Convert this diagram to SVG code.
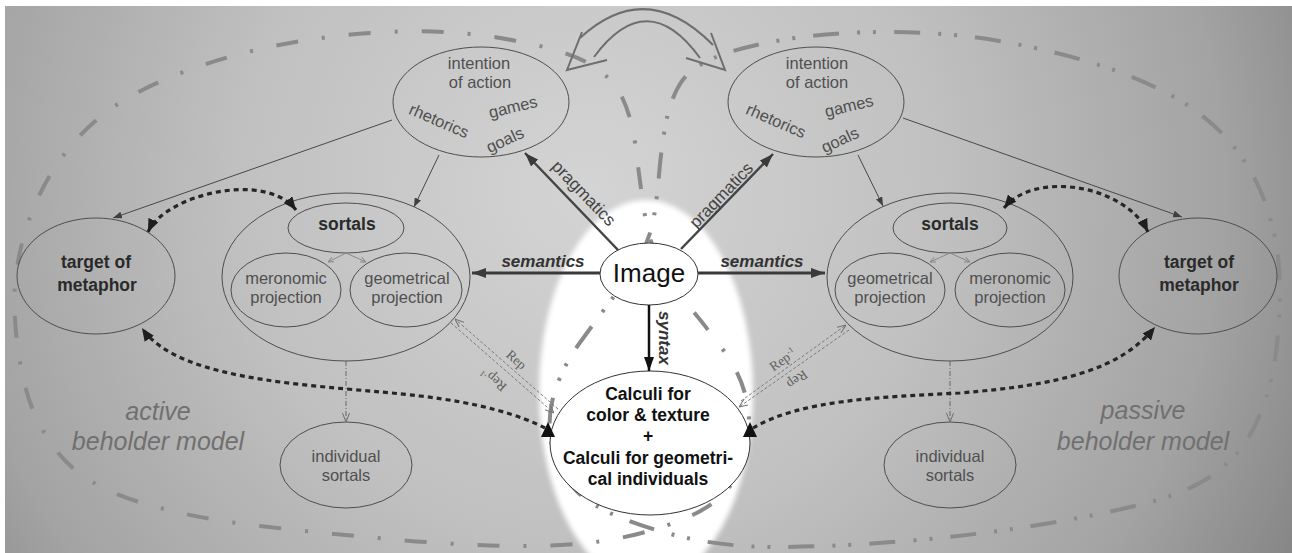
<svg xmlns="http://www.w3.org/2000/svg" width="1292" height="553" viewBox="0 0 1292 553">
<defs>
<radialGradient id="bg" gradientUnits="userSpaceOnUse" cx="590" cy="190" r="790">
<stop offset="0" stop-color="#d4d4d4"/>
<stop offset="0.45" stop-color="#c0c0c0"/>
<stop offset="0.8" stop-color="#a3a3a3"/>
<stop offset="1" stop-color="#868686"/>
</radialGradient>
<filter id="soft" x="-20%" y="-20%" width="140%" height="140%"><feGaussianBlur stdDeviation="2.5"/></filter>
<marker id="aThin" viewBox="0 0 10 10" refX="10" refY="5" markerUnits="userSpaceOnUse" markerWidth="9" markerHeight="7" preserveAspectRatio="none" orient="auto"><path d="M0,0L10,5L0,10z" fill="#404040"/></marker>
<marker id="aBig" viewBox="0 0 10 10" refX="10" refY="5" markerUnits="userSpaceOnUse" markerWidth="14" markerHeight="10" preserveAspectRatio="none" orient="auto"><path d="M0,0L10,5L0,10z" fill="#3a3a3a"/></marker>
<marker id="aBlk" viewBox="0 0 10 10" refX="10" refY="5" markerUnits="userSpaceOnUse" markerWidth="14" markerHeight="10" preserveAspectRatio="none" orient="auto"><path d="M0,0L10,5L0,10z" fill="#111"/></marker>
<marker id="aDot" viewBox="0 0 10 10" refX="10" refY="5" markerUnits="userSpaceOnUse" markerWidth="13" markerHeight="11" preserveAspectRatio="none" orient="auto-start-reverse"><path d="M0,0L10,5L0,10z" fill="#1e1e1e"/></marker>
<marker id="aOpen" viewBox="0 0 10 10" refX="10" refY="5" markerUnits="userSpaceOnUse" markerWidth="9" markerHeight="8" preserveAspectRatio="none" orient="auto-start-reverse"><path d="M0,0.5L10,5L0,9.5" fill="none" stroke="#707070" stroke-width="1.2"/></marker>
<marker id="aTiny" viewBox="0 0 10 10" refX="10" refY="5" markerUnits="userSpaceOnUse" markerWidth="6" markerHeight="6" preserveAspectRatio="none" orient="auto"><path d="M0,0.5L10,5L0,9.5" fill="none" stroke="#888" stroke-width="1.5"/></marker>
<style>
.n{fill:none;stroke:#4e4e4e;stroke-width:1}
.w{fill:#fff;stroke:#333;stroke-width:1}
.t{font-family:"Liberation Sans",Arial,sans-serif;font-size:16.5px;fill:#505050;text-anchor:middle}
.b{font-family:"Liberation Sans",Arial,sans-serif;font-weight:bold;font-size:17.5px;fill:#2a2a2a;text-anchor:middle}
.c{font-family:"Liberation Sans",Arial,sans-serif;font-weight:bold;font-size:17.5px;fill:#111;text-anchor:middle}
.lbl{font-family:"Liberation Sans",Arial,sans-serif;font-size:17px;font-style:italic;font-weight:bold;fill:#333;text-anchor:middle}
.pr{font-family:"Liberation Sans",Arial,sans-serif;font-size:17px;fill:#444;text-anchor:middle}
.beh{font-family:"Liberation Sans",Arial,sans-serif;font-size:25px;font-style:italic;fill:#707070;text-anchor:middle}
.rep{font-family:"Liberation Serif","Times New Roman",serif;font-size:13.5px;fill:#5e5e5e;text-anchor:middle}
.dotted{fill:none;stroke:#262626;stroke-width:3.2;stroke-dasharray:5 4}
.thin{fill:none;stroke:#484848;stroke-width:1}
.repl{fill:none;stroke:#7a7a7a;stroke-width:1;stroke-dasharray:3 2}
.vd{fill:none;stroke:#666;stroke-width:1;stroke-dasharray:5 2 1 2}
.loop{fill:none;stroke:#8a8a8a;stroke-width:4}
</style>
</defs>

<rect width="1292" height="553" fill="#fff"/>
<rect x="5" y="6" width="1287" height="547" fill="url(#bg)"/>
<ellipse cx="646" cy="392" rx="107" ry="192" fill="#fff" filter="url(#soft)"/>

<g id="loops">
<path class="loop" stroke-dasharray="22 24 3 24" d="M658,260 Q648,238 643.5,206.5 Q639,175 635.5,146.5 Q632,118 622,97 Q612,76 586,62 Q560,48 500,38 Q440,28 370,33 Q300,38 240,54 Q180,70 137.5,92.5 Q95,115 67.5,150 Q40,185 26.5,227.5 Q13,270 14.5,310 Q16,350 25.5,387.5 Q35,425 60,455 Q85,485 137.5,501.5 Q190,518 260,526 Q330,534 400,540 Q470,546 525,546 Q580,546 620,538 Q660,530 692.5,515 Q725,500 738.5,472.5 Q752,445 748.5,412.5 Q745,380 725,352.5 Q705,325 686.5,303.5 Q668,282 658,260 Z"/>
<path class="loop" stroke-dasharray="26 18 3 13 3 18" d="M640,256.5 Q650,238 653.5,219 Q657,200 659,175 Q661,150 665.5,125 Q670,100 680,84 Q690,68 715,57.5 Q740,47 785,39.5 Q830,32 890,32 Q950,32 1005,42 Q1060,52 1105,67 Q1150,82 1182.5,102 Q1215,122 1236.5,150 Q1258,178 1269,214 Q1280,250 1280,290 Q1280,330 1274,365 Q1268,400 1254,427.5 Q1240,455 1215,473.5 Q1190,492 1145,503.5 Q1100,515 1035,525.5 Q970,536 900,541.5 Q830,547 775,547 Q720,547 672.5,534.5 Q625,522 596.5,506 Q568,490 556.5,460 Q545,430 552.5,400 Q560,370 580,342.5 Q600,315 615,295 Q630,275 640,256.5 Z"/>
</g>

<g id="exchange">
<path d="M580,38 Q646,-23 713,45" fill="none" stroke="#6e6e6e" stroke-width="2"/>
<path d="M594,57 Q647,-15 700,58" fill="none" stroke="#6e6e6e" stroke-width="2"/>
<polyline points="582,32 567,70 607,60" fill="none" stroke="#6e6e6e" stroke-width="2"/>
<polyline points="711,33 725,70 686,58" fill="none" stroke="#6e6e6e" stroke-width="2"/>
</g>

<g id="intentionL">
<ellipse class="n" cx="481" cy="102" rx="88" ry="55"/>
<text class="t" x="479" y="69">intention</text>
<text class="t" x="480" y="88">of action</text>
<text class="t" transform="translate(439,121) rotate(23.5)" y="5.5">rhetorics</text>
<text class="t" transform="translate(513,107) rotate(-13.5)" y="5.5">games</text>
<text class="t" transform="translate(505,140) rotate(-25)" y="5.5">goals</text>
</g>
<g id="intentionR">
<ellipse class="n" cx="816" cy="102" rx="88" ry="55"/>
<text class="t" x="817" y="69">intention</text>
<text class="t" x="817" y="88">of action</text>
<text class="t" transform="translate(776,121) rotate(23.5)" y="5.5">rhetorics</text>
<text class="t" transform="translate(849,106) rotate(-13.5)" y="5.5">games</text>
<text class="t" transform="translate(840,140) rotate(-25)" y="5.5">goals</text>
</g>

<g id="targetL">
<ellipse class="n" cx="96" cy="276" rx="79" ry="58"/>
<text class="b" x="96" y="268">target of</text>
<text class="b" x="97" y="291">metaphor</text>
</g>
<g id="targetR">
<ellipse class="n" cx="1198" cy="276" rx="79" ry="58"/>
<text class="b" x="1199" y="268">target of</text>
<text class="b" x="1199" y="291">metaphor</text>
</g>

<g id="sortalsL">
<ellipse class="n" cx="346" cy="277" rx="124" ry="84"/>
<ellipse class="n" cx="346" cy="228" rx="58" ry="25"/>
<text class="b" x="347" y="230">sortals</text>
<ellipse class="n" cx="286" cy="290" rx="55" ry="37"/>
<text class="t" x="286" y="284">meronomic</text>
<text class="t" x="286" y="303">projection</text>
<ellipse class="n" cx="406" cy="290" rx="56" ry="37"/>
<text class="t" x="407" y="284">geometrical</text>
<text class="t" x="407" y="303">projection</text>
</g>
<g id="sortalsR">
<ellipse class="n" cx="950" cy="277" rx="123" ry="84"/>
<ellipse class="n" cx="950" cy="228" rx="57" ry="25"/>
<text class="b" x="950" y="230">sortals</text>
<ellipse class="n" cx="890" cy="290" rx="55" ry="37"/>
<text class="t" x="890" y="284">geometrical</text>
<text class="t" x="890" y="303">projection</text>
<ellipse class="n" cx="1010" cy="290" rx="55" ry="37"/>
<text class="t" x="1010" y="284">meronomic</text>
<text class="t" x="1010" y="303">projection</text>
</g>

<g id="indivL">
<ellipse class="n" cx="346" cy="465" rx="66" ry="43"/>
<text class="t" x="346" y="462">individual</text>
<text class="t" x="346" y="481">sortals</text>
</g>
<g id="indivR">
<ellipse class="n" cx="950" cy="465" rx="66" ry="43"/>
<text class="t" x="950" y="462">individual</text>
<text class="t" x="950" y="481">sortals</text>
</g>

<g id="image">
<ellipse class="w" cx="649" cy="274" rx="49" ry="31"/>
<text x="649" y="282" font-family="'Liberation Sans',Arial,sans-serif" font-size="26" fill="#111" text-anchor="middle">Image</text>
</g>

<g id="calculi">
<ellipse class="w" cx="650" cy="443" rx="100" ry="72" stroke="#444"/>
<text class="c" x="648" y="400">Calculi for</text>
<text class="c" x="648" y="421">color &amp; texture</text>
<text class="c" x="648" y="442">+</text>
<text class="c" x="648" y="464">Calculi for geometri-</text>
<text class="c" x="648" y="485">cal individuals</text>
</g>

<g id="connectors">
<line class="thin" x1="392" y1="120" x2="113" y2="218" marker-end="url(#aThin)"/>
<line class="thin" x1="439" y1="155" x2="414" y2="207" marker-end="url(#aThin)"/>
<line class="thin" x1="858" y1="155" x2="883" y2="206" marker-end="url(#aThin)"/>
<line class="thin" x1="903" y1="118" x2="1182" y2="217" marker-end="url(#aThin)"/>

<line x1="346" y1="253" x2="328" y2="262" stroke="#888" stroke-width="1" marker-end="url(#aTiny)"/>
<line x1="346" y1="253" x2="366" y2="262" stroke="#888" stroke-width="1" marker-end="url(#aTiny)"/>
<line x1="950" y1="253" x2="930" y2="262" stroke="#888" stroke-width="1" marker-end="url(#aTiny)"/>
<line x1="950" y1="253" x2="970" y2="262" stroke="#888" stroke-width="1" marker-end="url(#aTiny)"/>

<line class="vd" x1="346" y1="361" x2="346" y2="422" marker-end="url(#aOpen)"/>
<line class="vd" x1="950" y1="361" x2="950" y2="422" marker-end="url(#aOpen)"/>

<line x1="600" y1="273" x2="472" y2="273" stroke="#3a3a3a" stroke-width="3" marker-end="url(#aBig)"/>
<line x1="698" y1="273" x2="825" y2="273" stroke="#3a3a3a" stroke-width="3" marker-end="url(#aBig)"/>
<line x1="618" y1="250" x2="525" y2="153" stroke="#444" stroke-width="2.5" marker-end="url(#aBig)"/>
<line x1="681" y1="249" x2="773" y2="154" stroke="#444" stroke-width="2.5" marker-end="url(#aBig)"/>
<line x1="649" y1="305" x2="649" y2="371" stroke="#111" stroke-width="2.5" marker-end="url(#aBlk)"/>

<path class="dotted" d="M148,232 C165,195 265,170 296,210" marker-start="url(#aDot)" marker-end="url(#aDot)"/>
<path class="dotted" d="M1004,208 C1035,170 1125,185 1148,232" marker-start="url(#aDot)" marker-end="url(#aDot)"/>
<path class="dotted" d="M545,428 C520,415 480,403 420,396 C330,385 180,385 142,328" marker-end="url(#aDot)"/>
<path class="dotted" d="M753,428 C800,400 880,397 960,393 C1060,385 1120,370 1155,327" marker-end="url(#aDot)"/>
<polygon points="541,437 555,437 548,422" fill="#111"/>
<polygon points="743,437 757,437 750,422" fill="#111"/>

<line class="repl" x1="558" y1="409" x2="455" y2="319" marker-end="url(#aOpen)"/>
<line class="repl" x1="451" y1="323" x2="554" y2="413" marker-end="url(#aOpen)"/>
<line class="repl" x1="741" y1="401" x2="846" y2="325" marker-end="url(#aOpen)"/>
<line class="repl" x1="849" y1="330" x2="739" y2="407" marker-end="url(#aOpen)"/>
</g>

<g id="labels">
<text class="pr" transform="translate(584,193) rotate(46)" y="6">pragmatics</text>
<text class="pr" transform="translate(721,195) rotate(-46)" y="6">pragmatics</text>
<text class="lbl" x="543" y="267">semantics</text>
<text class="lbl" x="762" y="267">semantics</text>
<text class="lbl" transform="translate(665,338) rotate(90)" y="6">syntax</text>
<text class="rep" transform="translate(516,360) rotate(41)" y="4">Rep</text>
<text class="rep" transform="translate(494,379) rotate(221)" y="4">Rep<tspan font-size="8.5" dy="-5">-1</tspan></text>
<text class="rep" transform="translate(783,360) rotate(-35.6)" y="4">Rep<tspan font-size="8.5" dy="-5">-1</tspan></text>
<text class="rep" transform="translate(797,379) rotate(144.4)" y="4">Rep</text>
<text class="beh" x="158" y="420">active</text>
<text class="beh" x="158" y="450">beholder model</text>
<text class="beh" x="1143" y="419">passive</text>
<text class="beh" x="1143" y="450">beholder model</text>
</g>
</svg>
